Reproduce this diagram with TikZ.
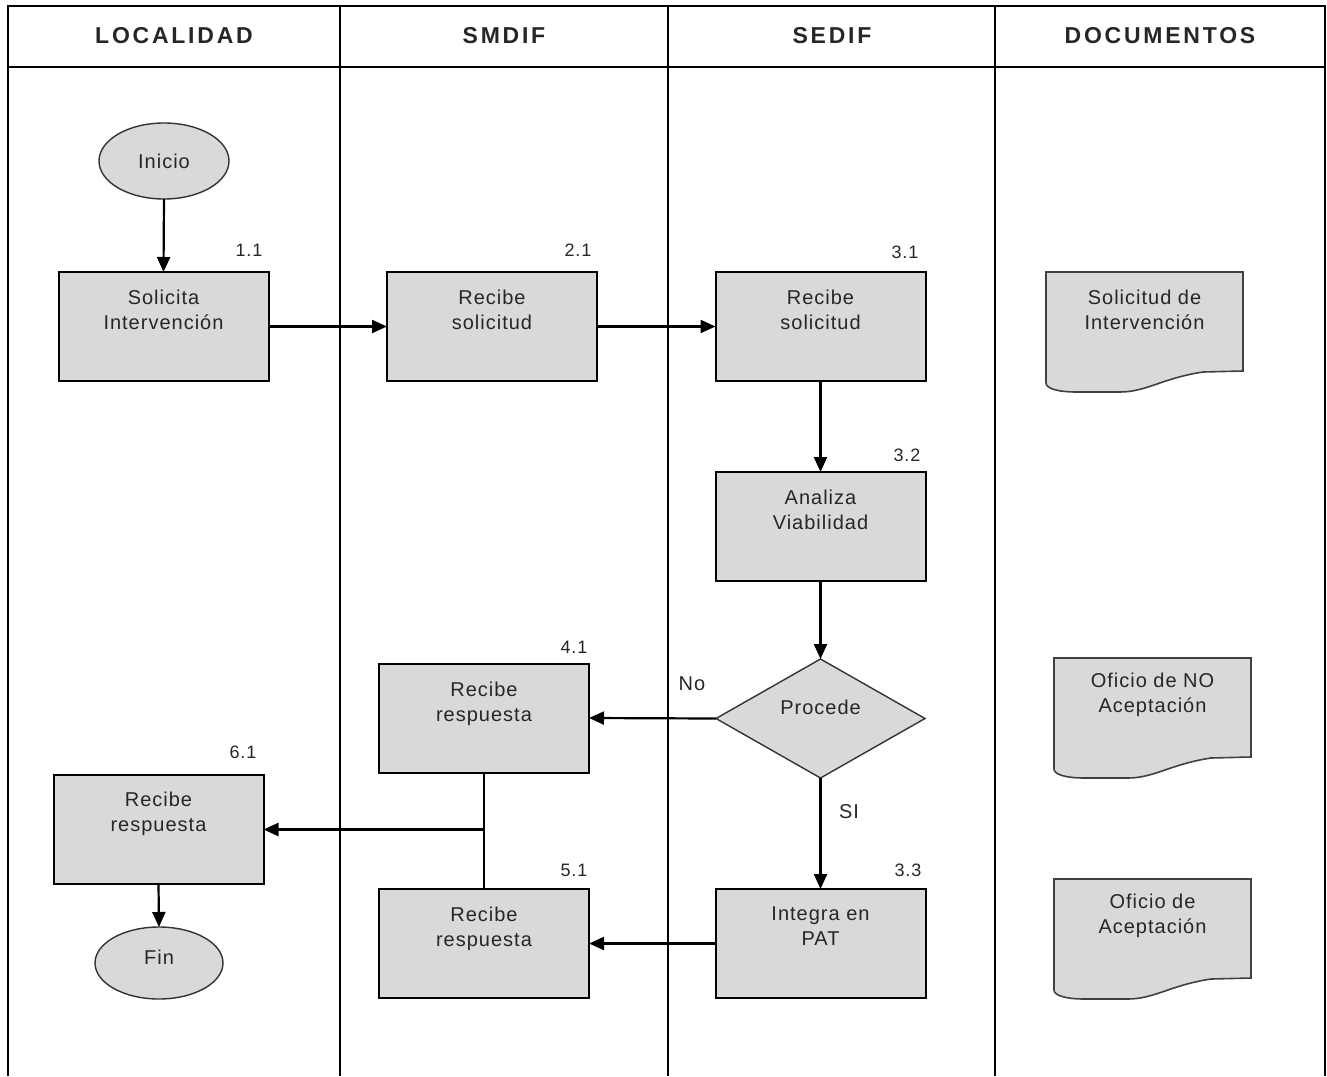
\documentclass[tikz,border=0pt]{standalone}
\usepackage{fontspec}
\setmainfont{Liberation Sans}
\newfontfamily\bodyfont[LetterSpace=5]{Liberation Sans}
\newfontfamily\headfont[LetterSpace=12]{Liberation Sans}
\usetikzlibrary{shapes.geometric,arrows.meta,calc}
\definecolor{boxgray}{RGB}{217,217,217}
\tikzset{
  box/.style={draw=black, line width=2pt, fill=boxgray, minimum width=210pt, minimum height=109pt, inner sep=0pt, outer sep=0pt},
  term/.style={ellipse, draw=black!80, line width=1.4pt, fill=boxgray, inner sep=0pt, outer sep=0pt},
  decis/.style={diamond, draw=black!80, line width=1.4pt, fill=boxgray, minimum width=209pt, minimum height=119pt, inner sep=0pt, outer sep=0pt},
  txt/.style={font=\bodyfont\fontsize{20}{25}\selectfont, align=center, text=black!85, inner sep=0pt},
  num/.style={font=\bodyfont\fontsize{18}{20}\selectfont, text=black!85, inner sep=0pt},
  head/.style={font=\headfont\bfseries\fontsize{23}{26}\selectfont, text=black!85, inner sep=0pt},
  arr/.style={draw=black, line width=2.2pt, -{Triangle[length=15pt,width=13pt]}},
  joinline/.style={draw=black, line width=2.6pt},
  frame/.style={draw=black, line width=2.4pt},
  docline/.style={draw=black!75, line width=1.6pt, fill=boxgray},
}
\newcommand\docshp[2]{%
  \draw[docline] (#1,#2) -- ({#1+197},#2) -- ({#1+197},{#2+99}) -- ({#1+157},{#2+100})
    .. controls ({#1+117},{#2+106}) and ({#1+100},{#2+120}) .. ({#1+74},{#2+120})
    -- ({#1+31},{#2+120}) .. controls ({#1+10},{#2+120}) and (#1,{#2+116}) .. (#1,{#2+111}) -- cycle;}
\begin{document}
\begin{tikzpicture}[x=1pt,y=-1pt]
\useasboundingbox (0,0) rectangle (1327,1076);
% frame
\draw[frame] (8,1076) -- (8,6) -- (1325,6) -- (1325,1076);
\draw[frame] (8,67) -- (1325,67);
\draw[frame] (340,6) -- (340,1076);
\draw[frame] (668,6) -- (668,1076);
\draw[frame] (995,6) -- (995,1076);
% headers
\node[head] (h1) at (174,36) {LOCALIDAD};
\node[head] (h2) at (504,36) {SMDIF};
\node[head] (h3) at (832,36) {SEDIF};
\node[head] (h4) at (1160,36) {DOCUMENTOS};
% terminals
\node[term, minimum width=130pt, minimum height=76pt] (ini) at (164,161) {};
\node[txt] (initxt) at (164,161) {Inicio};
\node[term, minimum width=128pt, minimum height=72pt] (fin) at (159,963) {};
\node[txt] (fintxt) at (159,957) {Fin};
% boxes
\node[box] (b11) at (163.5,326.5) {};
\node[box] (b21) at (492,326.5) {};
\node[box] (b31) at (820.5,326.5) {};
\node[box] (b32) at (820.5,526.5) {};
\node[box] (b41) at (484,718) {};
\node[box] (b61) at (158.5,829.5) {};
\node[box] (b51) at (484,943.5) {};
\node[box] (b33) at (820.5,943.5) {};
\node[decis] (d) at (820.5,718.5) {};
% box texts
\node[txt, anchor=north] (t11) at ([yshift=-18pt]b11.north) {Solicita\\Intervención};
\node[txt, anchor=north] (t21) at ([yshift=-18pt]b21.north) {Recibe\\solicitud};
\node[txt, anchor=north] (t31) at ([yshift=-18pt]b31.north) {Recibe\\solicitud};
\node[txt, anchor=north] (t32) at ([yshift=-18pt]b32.north) {Analiza\\Viabilidad};
\node[txt, anchor=north] (t41) at ([yshift=-18pt]b41.north) {Recibe\\respuesta};
\node[txt, anchor=north] (t61) at ([yshift=-17pt]b61.north) {Recibe\\respuesta};
\node[txt, anchor=north] (t51) at ([yshift=-18pt]b51.north) {Recibe\\respuesta};
\node[txt, anchor=north] (t33) at ([yshift=-18pt]b33.north) {Integra en\\PAT};
\node[txt, anchor=base] (td) at (820.5,714) {Procede};
% numbers
\node[num] (n11) at (249,250) {1.1};
\node[num] (n21) at (578,250) {2.1};
\node[num] (n31) at (905,252) {3.1};
\node[num] (n32) at (907,455) {3.2};
\node[num] (n41) at (574,647) {4.1};
\node[num] (n61) at (243,752) {6.1};
\node[num] (n51) at (574,870) {5.1};
\node[num] (n33) at (908,870) {3.3};
% documents
\docshp{1046}{272}
\node[txt, anchor=north] (doc1) at (1144.5,290) {Solicitud de\\Intervención};
\docshp{1054}{658}
\node[txt, anchor=north] (doc2) at (1152.5,673) {Oficio de NO\\Aceptación};
\docshp{1054}{879}
\node[txt, anchor=north] (doc3) at (1152.5,894) {Oficio de\\Aceptación};
% connectors
\draw[arr] (ini.south) -- (b11.north);
\draw[arr] (b11.east) -- (b21.west);
\draw[arr] (b21.east) -- (b31.west);
\draw[arr] (b31.south) -- (b32.north);
\draw[arr] (b32.south) -- (d.north);
\draw[arr] (d.west) -- (b41.east);
\draw[arr] (d.south) -- (b33.north);
\draw[arr] (b33.west) -- (b51.east);
\coordinate (m) at (484,829.5);
\draw[joinline] (b41.south) -- (m) -- (b51.north);
\draw[arr, line width=2.6pt] (m) -- (b61.east);
\draw[arr] (b61.south) -- (fin.north);
% connector labels
\node[txt] (lno) at (692,684) {No};
\node[txt] (lsi) at (849,812) {SI};
\end{tikzpicture}
\end{document}
